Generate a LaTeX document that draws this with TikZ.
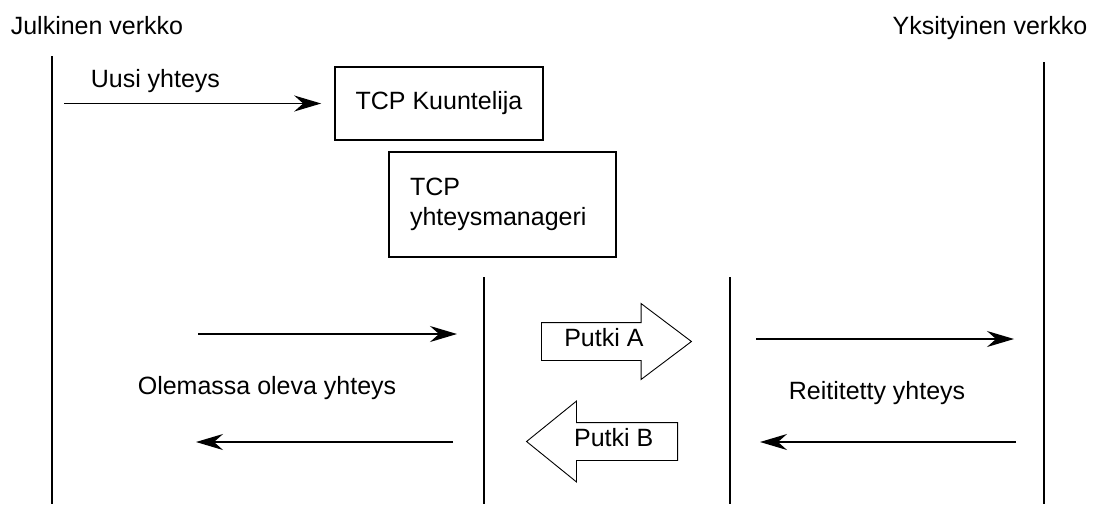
\documentclass[tikz,border=0pt]{standalone}
\usepackage{fontspec}
\setmainfont{Liberation Sans}
\usetikzlibrary{arrows.meta,shapes.arrows}

\begin{document}
\begin{tikzpicture}[x=1pt,y=-1pt,line width=1.6pt,font=\fontsize{25}{30}\selectfont,
	box/.style={draw,rectangle,inner sep=0pt},
	pipe/.style={single arrow,draw,line width=0.9pt,text height=13pt,text depth=3pt,inner ysep=10.5pt,inner xsep=4pt},
	flow/.style={-{Stealth[length=27pt,width=16pt,inset=9pt]}},
	tag/.style={anchor=base west,inner sep=0pt}]
\useasboundingbox (0,0) rectangle (1099,504);
% networks
\node[tag] (public) at (10,34) {Julkinen verkko};
\node[tag,anchor=base east] (private) at (1088,34) {Yksityinen verkko};
\draw (52,56) -- (52,504);
\draw (1044,62) -- (1044,504);
\draw (484,277) -- (484,504);
\draw (730,277) -- (730,504);
% new connection
\node[box,minimum width=208pt,minimum height=73pt] (listener) at (439,103.5) {TCP Kuuntelija};
\node[box,minimum width=227pt,minimum height=105pt,text width=185pt,inner xsep=21pt,align=left] (manager) at (502.5,204.5) {TCP\\yhteysmanageri};
\node[tag] (newconn) at (90,87) {Uusi yhteys};
\coordinate (newin) at (64,103.5);
\draw[flow] (newin) -- ([xshift=-13pt]listener.west);
% existing connection
\node[tag] (existing) at (137,394) {Olemassa oleva yhteys};
\coordinate (exinA) at (198,334);
\coordinate (exoutA) at (457,334);
\coordinate (exinB) at (453,442);
\coordinate (exoutB) at (196,442);
\draw[flow] (exinA) -- (exoutA);
\draw[flow] (exinB) -- (exoutB);
% pipes
\node[pipe,minimum height=150pt,single arrow head extend=19pt,single arrow tip angle=74,anchor=tail] (pipeA) at (541,341.5) {Putki A};
\node[pipe,minimum height=151pt,single arrow head extend=21.5pt,single arrow tip angle=78,shape border rotate=180,anchor=tail] (pipeB) at (678,441.5) {Putki B};
% routed connection
\node[tag] (routed) at (788,399) {Reititetty yhteys};
\coordinate (rtinA) at (756,339);
\coordinate (rtoutA) at (1014,339);
\coordinate (rtinB) at (1016,442);
\coordinate (rtoutB) at (760,442);
\draw[flow] (rtinA) -- (rtoutA);
\draw[flow] (rtinB) -- (rtoutB);
\end{tikzpicture}
\end{document}
